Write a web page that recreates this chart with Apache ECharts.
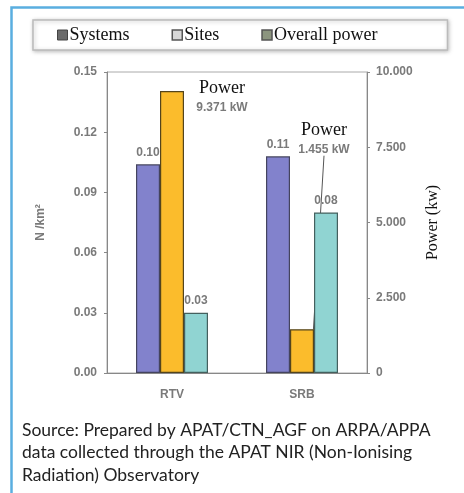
<!DOCTYPE html>
<html>
<head>
<meta charset="utf-8">
<script src="https://cdn.jsdelivr.net/npm/echarts@6/dist/echarts.min.js"></script>
<style>
  html, body { margin: 0; padding: 0; background: #fff; }
  #chart { width: 464px; height: 493px; }
</style>
</head>
<body>
<div id="chart"></div>
<script>
// data
const categories = ["RTV", "SRB"];
const systems = [0.104, 0.108];      // N/km2
const sites = [0.030, 0.080];        // N/km2
const overallPower = [9371, 1455];   // kW
const powerLabels = ["9.371 kW", "1.455 kW"];
const sourceLines = [
  "Source: Prepared by APAT/CTN_AGF on ARPA/APPA",
  "data collected through the APAT NIR (Non-Ionising",
  "Radiation) Observatory"
];

function dotThousands(v) {
  return String(v).replace(/\B(?=(\d{3})+(?!\d))/g, ".");
}

let myChart = echarts.init(document.getElementById("chart"));

const greyText = {
  color: "#7a7a7a",
  fontSize: 12,
  fontWeight: "bold",
  fontFamily: "Liberation Sans"
};

const valueLabel = Object.assign({
  show: true,
  position: "top",
  distance: 6,
  formatter: p => p.value.toFixed(2)
}, greyText);

let option = {
  animation: false,
  graphic: [
    {
      type: "rect",
      left: 9,
      top: 5,
      shape: { width: 470, height: 500 },
      style: { fill: "none", stroke: "#5aaee0", lineWidth: 2.5 }
    },
    {
      type: "text",
      left: 22,
      top: 419,
      style: {
        text: sourceLines.join("\n"),
        fill: "#222",
        fontSize: 17.5,
        lineHeight: 22.5,
        fontFamily: "Lato"
      }
    }
  ],
  legend: {
    left: 33,
    top: 20,
    padding: [6, 70, 6, 24],
    itemGap: 42,
    itemWidth: 10,
    itemHeight: 10,
    icon: "rect",
    borderColor: "#bbb",
    borderWidth: 1.5,
    shadowBlur: 4,
    shadowColor: "rgba(0,0,0,0.25)",
    shadowOffsetX: 1,
    shadowOffsetY: 1,
    backgroundColor: "#fff",
    textStyle: { fontFamily: "Liberation Serif", fontSize: 18, color: "#111", padding: [0, 0, 0, -3] },
    data: [
      { name: "Systems", itemStyle: { color: "#6b6b6b", borderColor: "#444", borderWidth: 1 } },
      { name: "Sites", itemStyle: { color: "#d8d8d8", borderColor: "#555", borderWidth: 1.5 } },
      { name: "Overall power", itemStyle: { color: "#8c957f", borderColor: "#555", borderWidth: 1.5 } }
    ]
  },
  grid: {
    left: 107,
    right: 97,
    top: 72,
    bottom: 120,
    show: true,
    borderColor: "#aaa",
    borderWidth: 1
  },
  xAxis: {
    type: "category",
    data: categories,
    axisLine: { lineStyle: { color: "#888" } },
    axisTick: { show: false },
    axisLabel: Object.assign({ margin: 16 }, greyText)
  },
  yAxis: [
    {
      type: "value",
      min: 0,
      max: 0.15,
      interval: 0.03,
      name: "N /km²",
      nameLocation: "middle",
      nameGap: 60,
      nameRotate: 90,
      nameTextStyle: greyText,
      splitLine: { show: false },
      axisLine: { show: true, lineStyle: { color: "#888" } },
      axisTick: { show: true, length: 3, lineStyle: { color: "#888" } },
      axisLabel: Object.assign({ margin: 10, formatter: v => v.toFixed(2) }, greyText)
    },
    {
      type: "value",
      min: 0,
      max: 10000,
      interval: 2500,
      name: "Power (kw)",
      nameLocation: "middle",
      nameGap: 58,
      nameRotate: 90,
      nameTextStyle: { color: "#111", fontSize: 16, fontFamily: "Liberation Serif" },
      splitLine: { show: false },
      axisLine: { show: true, lineStyle: { color: "#888" } },
      axisTick: { show: true, length: 3, lineStyle: { color: "#888" } },
      axisLabel: Object.assign({ margin: 9, formatter: v => dotThousands(v) }, greyText)
    }
  ],
  series: [
    {
      name: "Systems",
      type: "bar",
      yAxisIndex: 0,
      barWidth: 24,
      barGap: "0%",
      data: systems,
      itemStyle: { color: "#8282cc", borderColor: "#44445e", borderWidth: 1.2 },
      label: valueLabel
    },
    {
      name: "Overall power",
      type: "bar",
      yAxisIndex: 1,
      barWidth: 24,
      barGap: "0%",
      data: overallPower.map((v, i) => ({
        value: v,
        labelLine: { show: i === 1 }
      })),
      itemStyle: { color: "#fbbc2c", borderColor: "#54451c", borderWidth: 1.2 },
      label: {
        show: true,
        position: "top",
        formatter: p => "{t|Power}\n{v|" + powerLabels[p.dataIndex] + "}",
        rich: {
          t: { fontFamily: "Liberation Serif", fontSize: 18, color: "#111", lineHeight: 21, align: "center" },
          v: Object.assign({ lineHeight: 17, align: "center" }, greyText)
        }
      },
      labelLayout: p => p.dataIndex === 0 ? { dx: 50, dy: 30 } : { dx: 22, dy: -166 },
      labelLine: { length2: 0, lineStyle: { color: "#555", width: 1 } }
    },
    {
      name: "Sites",
      type: "bar",
      yAxisIndex: 0,
      barWidth: 24,
      barGap: "0%",
      data: sites,
      itemStyle: { color: "#90d4d2", borderColor: "#44605e", borderWidth: 1.2 },
      label: valueLabel
    }
  ]
};
myChart.setOption(option);
</script>
</body>
</html>
